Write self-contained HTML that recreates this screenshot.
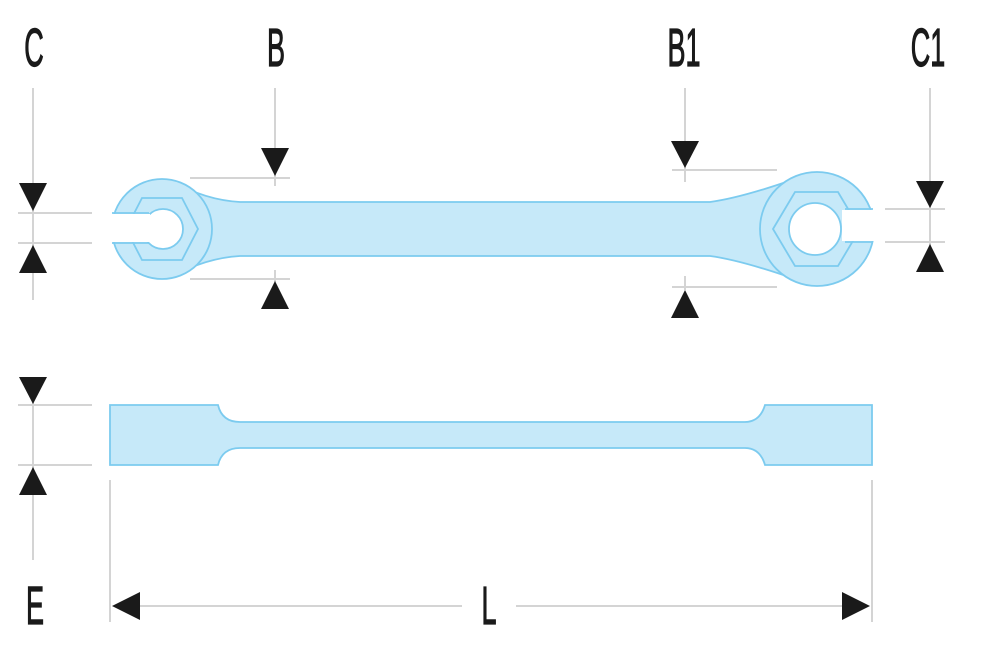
<!DOCTYPE html>
<html><head><meta charset="utf-8"><style>html,body{margin:0;padding:0;background:#fff}svg{display:block}</style></head>
<body>
<svg width="1000" height="652" viewBox="0 0 1000 652" xmlns="http://www.w3.org/2000/svg">
<g stroke="#d4d4d4" stroke-width="2" fill="none">
<line x1="33" y1="88" x2="33" y2="300"/>
<line x1="18" y1="213" x2="92" y2="213"/>
<line x1="18" y1="243" x2="92" y2="243"/>
<line x1="275" y1="88" x2="275" y2="186"/>
<line x1="190" y1="178" x2="290" y2="178"/>
<line x1="190" y1="279" x2="290" y2="279"/>
<line x1="275" y1="270" x2="275" y2="282"/>
<line x1="685" y1="88" x2="685" y2="182"/>
<line x1="672" y1="170" x2="777" y2="170"/>
<line x1="672" y1="287" x2="777" y2="287"/>
<line x1="685" y1="276" x2="685" y2="290"/>
<line x1="930" y1="88" x2="930" y2="272"/>
<line x1="885" y1="209" x2="945" y2="209"/>
<line x1="885" y1="242" x2="945" y2="242"/>
<line x1="33" y1="378" x2="33" y2="560"/>
<line x1="18" y1="405" x2="92" y2="405"/>
<line x1="18" y1="465" x2="92" y2="465"/>
<line x1="110" y1="480" x2="110" y2="622"/>
<line x1="872" y1="480" x2="872" y2="622"/>
<line x1="140" y1="606" x2="462" y2="606"/>
<line x1="516" y1="606" x2="842" y2="606"/>
</g>
<g fill="#1a1a1a">
<polygon points="19,183 47,183 33,211"/>
<polygon points="19,273 47,273 33,245"/>
<polygon points="261,148 289,148 275,176"/>
<polygon points="261,309 289,309 275,281"/>
<polygon points="671,141 699,141 685,168"/>
<polygon points="671,318 699,318 685,290"/>
<polygon points="916,181 944,181 930,208"/>
<polygon points="916,272 944,272 930,244"/>
<polygon points="19,377 47,377 33,404"/>
<polygon points="19,495 47,495 33,467"/>
<polygon points="112,606 140,592 140,620"/>
<polygon points="870,606 842,592 842,620"/>
</g>
<g stroke="#7ccbef" stroke-width="1.8" fill="#c6e9f9">
<path d="M172,181 Q205,200 240,202 L710,202 Q740,198 792,180 L792,278 Q740,260 710,256 L240,256 Q205,258 172,277 Z"/>
<circle cx="162" cy="229" r="50"/>
<circle cx="817" cy="229" r="57"/>
<polygon points="126,229 142,198 182,198 198,229 182,260 142,260" fill="none"/>
<polygon points="773,229 795,192 838,192 860,229 838,266 795,266" fill="none"/>
<circle cx="163" cy="229" r="20" fill="#fff"/>
<circle cx="815" cy="229" r="26" fill="#fff"/>
<path d="M110,405 L218,405 Q222,422 240,422 L745,422 Q760,422 765,405 L872,405 L872,465 L765,465 Q760,448 745,448 L240,448 Q222,448 218,465 L110,465 Z"/>
</g>
<g fill="#fff">
<rect x="100" y="214" width="50" height="28"/>
<rect x="842" y="210" width="45" height="31"/>
</g>
<g stroke="#7ccbef" stroke-width="1.8">
<line x1="112" y1="213" x2="149" y2="213"/>
<line x1="112" y1="243" x2="149" y2="243"/>
<line x1="845" y1="209" x2="873" y2="209"/>
<line x1="845" y1="242" x2="873" y2="242"/>
</g>
<g font-family="Liberation Sans, sans-serif" font-size="54" fill="#1a1a1a" stroke="#1a1a1a" stroke-width="1.2">
<text transform="translate(34,66) scale(0.5,1)" text-anchor="middle">C</text>
<text transform="translate(276,66) scale(0.5,1)" text-anchor="middle">B</text>
<text transform="translate(684,66) scale(0.5,1)" text-anchor="middle">B1</text>
<text transform="translate(928,66) scale(0.5,1)" text-anchor="middle">C1</text>
<text transform="translate(35,624) scale(0.5,1)" text-anchor="middle">E</text>
<text transform="translate(489,624) scale(0.5,1)" text-anchor="middle">L</text>
</g>
</svg>
</body></html>
